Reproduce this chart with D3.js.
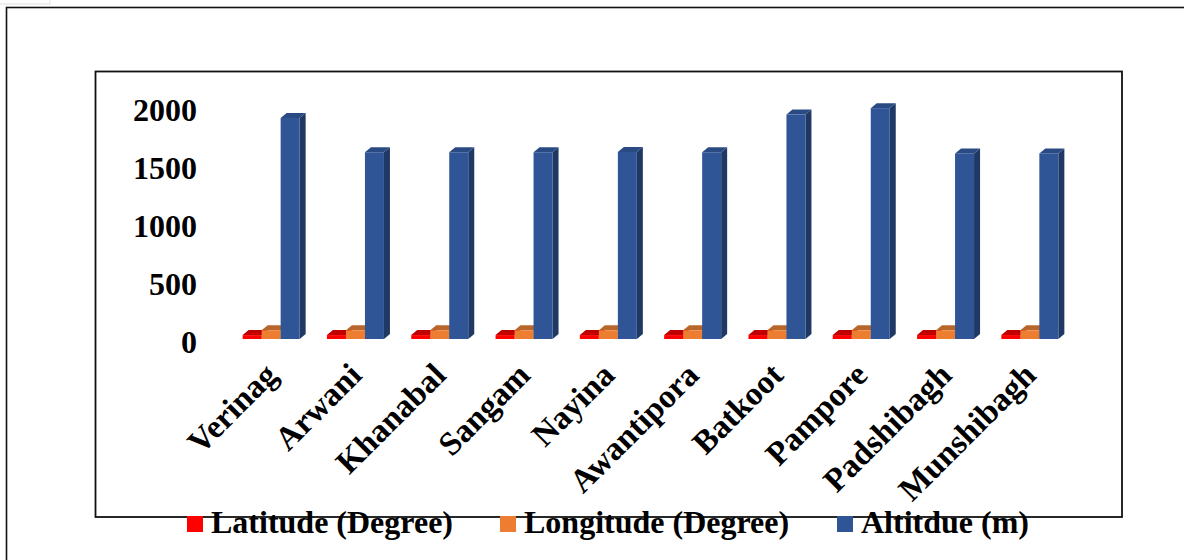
<!DOCTYPE html>
<html>
<head>
<meta charset="utf-8">
<script src="https://cdn.jsdelivr.net/npm/d3@7"></script>
<style>
  html, body { margin: 0; padding: 0; background: #ffffff; }
  svg { display: block; }
</style>
</head>
<body>
<svg id="chart" width="1184" height="560"></svg>
<script>
// Station names along the x axis
const stations = ["Verinag", "Arwani", "Khanabal", "Sangam", "Nayina",
                  "Awantipora", "Batkoot", "Pampore", "Padshibagh", "Munshibagh"];

// Series values per station
const latitude  = [33.54, 33.83, 33.73, 33.83, 33.88, 33.92, 33.98, 34.02, 34.08, 34.07];
const longitude = [75.25, 75.10, 75.13, 75.17, 75.02, 75.05, 74.98, 74.93, 74.80, 74.82];
const altitude  = [1905, 1610, 1610, 1610, 1612, 1610, 1935, 1990, 1600, 1600];

const seriesNames = ["Latitude (Degree)", "Longitude (Degree)", "Altitdue (m)"];
const yTicks = [0, 500, 1000, 1500, 2000];

const series = [
  { name: seriesNames[0], values: latitude,  front: "#ff0000", top: "#c00000", side: "#b00000" },
  { name: seriesNames[1], values: longitude, front: "#ed7d31", top: "#b9662b", side: "#a85a22" },
  { name: seriesNames[2], values: altitude,  front: "#2f5597", top: "#2a4a84", side: "#1f3864" }
];

const svg = d3.select("#chart");
const FONT = "'Liberation Serif', 'Times New Roman', serif";

// Outer chart frame (extends past the page edge on the right and bottom)
svg.append("rect").attr("x", 6.5).attr("y", 7.5).attr("width", 1200).attr("height", 600)
  .attr("fill", "none").attr("stroke", "#111").attr("stroke-width", 1.6);

// Plot area frame
svg.append("rect").attr("x", 95.5).attr("y", 71.5).attr("width", 1026.5).attr("height", 445.5)
  .attr("fill", "#fff").attr("stroke", "#111").attr("stroke-width", 1.8);

// Scales
const y = d3.scaleLinear().domain([0, 2000]).range([339, 107]);
const x0 = d3.scaleBand().domain(stations).range([229, 1072]).padding(0);
const groupW = 57;
const x1 = d3.scaleBand().domain(seriesNames).range([0, groupW]).padding(0);
const depthX = 6, depthY = 5;

// Y axis labels
svg.append("g").selectAll("text").data(yTicks).join("text")
  .attr("x", 197)
  .attr("y", d => y(d) + 3)
  .attr("dy", "0.35em")
  .attr("text-anchor", "end")
  .attr("font-family", FONT)
  .attr("font-weight", "bold")
  .attr("font-size", 32)
  .attr("fill", "#000")
  .text(d => d);

// 3D-style bars: front face, top face and right side face
const bars = svg.append("g");
stations.forEach((st, i) => {
  const gx = x0(st) + (x0.bandwidth() - groupW) / 2;
  series.forEach(s => {
    const v = s.values[i];
    const xl = gx + x1(s.name);
    const w = x1.bandwidth();
    const yt = y(v), yb = y(0);
    const g = bars.append("g");
    // side face
    g.append("path")
      .attr("d", `M${xl + w},${yb} L${xl + w + depthX},${yb - depthY} L${xl + w + depthX},${yt - depthY} L${xl + w},${yt} Z`)
      .attr("fill", s.side);
    // top face
    g.append("path")
      .attr("d", `M${xl},${yt} L${xl + depthX},${yt - depthY} L${xl + w + depthX},${yt - depthY} L${xl + w},${yt} Z`)
      .attr("fill", s.top);
    // front face
    g.append("rect")
      .attr("x", xl).attr("y", yt).attr("width", w).attr("height", yb - yt)
      .attr("fill", s.front);
  });
});

// Category labels, rotated
svg.append("g").selectAll("text").data(stations).join("text")
  .attr("transform", d => `translate(${x0(d) + x0.bandwidth() / 2 + 8},${377}) rotate(-45)`)
  .attr("text-anchor", "end")
  .attr("font-family", FONT)
  .attr("font-weight", "bold")
  .attr("font-size", 33)
  .attr("fill", "#000")
  .text(d => d);

// Legend
const legendX = [187, 500, 837];
const legend = svg.append("g");
series.forEach((s, i) => {
  legend.append("rect").attr("x", legendX[i]).attr("y", 516).attr("width", 16).attr("height", 16)
    .attr("fill", s.front);
  legend.append("text")
    .attr("x", legendX[i] + 24).attr("y", 533)
    .attr("font-family", FONT)
    .attr("font-weight", "bold")
    .attr("font-size", 32)
    .attr("fill", "#000")
    .text(s.name);
});

// Small tab in the top-left corner
svg.append("rect").attr("x", -1).attr("y", -1).attr("width", 51).attr("height", 5)
  .attr("fill", "none").attr("stroke", "#ddd").attr("stroke-width", 1);
</script>
</body>
</html>
